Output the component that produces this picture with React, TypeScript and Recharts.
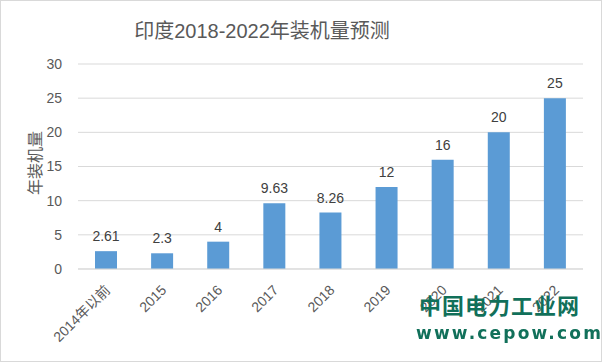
import { BarChart, Bar, XAxis, YAxis, CartesianGrid, LabelList } from 'recharts';

const categories = ['2014年以前', '2015', '2016', '2017', '2018', '2019', '2020', '2021', '2022'];
const capacity = [2.61, 2.3, 4, 9.63, 8.26, 12, 16, 20, 25];
const yTicks = [0, 5, 10, 15, 20, 25, 30];

const data = categories.map((name, i) => ({ name, value: capacity[i] }));

const FONT = '"Liberation Sans", Arial, "Noto Sans CJK SC", sans-serif';

const XTick = (props: any) => {
  const { x, y, payload } = props;
  const tx = x + 5;
  const ty = y + 14;
  return (
    <text
      x={tx}
      y={ty}
      transform={`rotate(-45, ${tx}, ${ty})`}
      textAnchor="end"
      fill="#595959"
      fontSize={14}
      fontFamily={FONT}
    >
      {payload.value}
    </text>
  );
};

const App = () => {
  return (
    <div
      style={{
        position: 'fixed',
        left: 0,
        top: 0,
        width: 600,
        height: 360,
        border: '1px solid #d9d9d9',
        background: '#fff',
        fontFamily: FONT,
      }}
    >
      <div
        style={{
          position: 'absolute',
          left: 0,
          width: 522,
          top: 14,
          textAlign: 'center',
          fontSize: 20,
          color: '#595959',
          fontFamily: '"Liberation Sans", "Noto Sans CJK SC", sans-serif',
        }}
      >
        印度2018-2022年装机量预测
      </div>
      <div
        style={{
          position: 'absolute',
          left: 33,
          top: 162,
          transform: 'translate(-50%, -50%) rotate(-90deg)',
          fontSize: 16,
          color: '#595959',
          whiteSpace: 'nowrap',
          fontFamily: '"Noto Sans CJK SC", sans-serif',
        }}
      >
        年装机量
      </div>
      <BarChart
        width={600}
        height={360}
        data={data}
        margin={{ top: 63, right: 18, bottom: 0, left: 0 }}
        style={{ position: 'absolute', left: 0, top: 0 }}
      >
        <CartesianGrid vertical={false} stroke="#d9d9d9" />
        <XAxis
          dataKey="name"
          height={92}
          interval={0}
          tickLine={false}
          axisLine={{ stroke: '#d9d9d9' }}
          tick={<XTick />}
        />
        <YAxis
          width={77}
          domain={[0, 30]}
          ticks={yTicks}
          tickLine={false}
          axisLine={false}
          tick={{ fill: '#595959', fontSize: 14, fontFamily: FONT }}
          tickMargin={10}
        />
        <Bar dataKey="value" fill="#5b9bd5" barSize={22} isAnimationActive={false}>
          <LabelList
            dataKey="value"
            position="top"
            offset={10}
            fill="#404040"
            fontSize={14}
            fontFamily={FONT}
          />
        </Bar>
      </BarChart>
      <div
        style={{
          position: 'absolute',
          left: 418,
          top: 287,
          fontSize: 22,
          fontWeight: 'bold',
          color: '#11705a',
          letterSpacing: 1,
          whiteSpace: 'nowrap',
          fontFamily: '"Noto Sans CJK SC", sans-serif',
        }}
      >
        中国电力工业网
      </div>
      <div
        style={{
          position: 'absolute',
          left: 415,
          top: 322,
          fontSize: 17,
          fontWeight: 'bold',
          color: '#11705a',
          letterSpacing: 2.2,
          whiteSpace: 'nowrap',
          fontFamily: '"DejaVu Sans", sans-serif',
        }}
      >
        www.cepow.com
      </div>
    </div>
  );
};

export default App;
